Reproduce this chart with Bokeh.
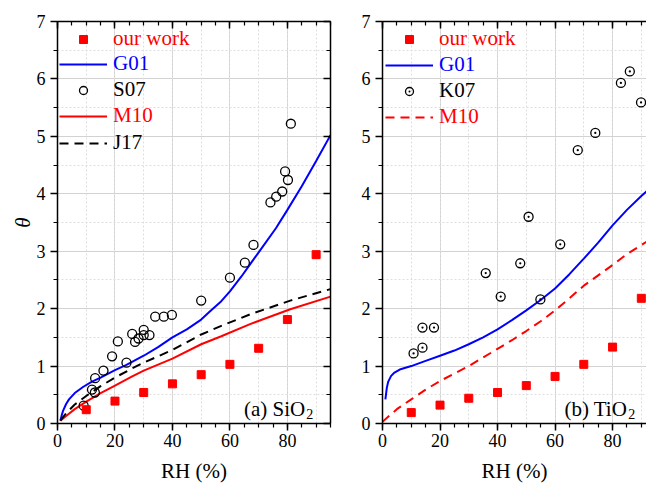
from bokeh.plotting import figure
from bokeh.models import (Range1d, LinearAxis, SingleIntervalTicker, Grid, Legend,
                          LegendItem, Label)
from bokeh.layouts import row
from bokeh.embed import file_html
from bokeh.resources import INLINE

FONT = "Liberation Serif"
RED = "#ff0000"
BLUE = "#0000ff"

# ---------------- (a) SiO2 ----------------
sio2_ours_rh = [10, 20, 30, 40, 50, 60, 70, 80, 90]
sio2_ours_theta = [0.24, 0.39, 0.54, 0.69, 0.85, 1.03, 1.31, 1.81, 2.94]

s07_rh = [9.1, 12.0, 13.0, 13.1, 16.0, 19.0, 21.0, 24.0, 26.0, 27.0, 28.2, 30.0, 30.0,
          32.0, 34.0, 37.0, 39.8, 50.0, 60.0, 65.2, 68.2, 74.1, 76.1, 78.2, 79.2, 80.2, 81.2]
s07_theta = [0.31, 0.59, 0.54, 0.79, 0.92, 1.17, 1.43, 1.06, 1.56, 1.42, 1.48, 1.63, 1.54,
             1.54, 1.86, 1.86, 1.89, 2.14, 2.54, 2.80, 3.11, 3.85, 3.95, 4.04, 4.39, 4.24, 5.22]

g01_sio2_rh = [1, 1.5, 2, 3, 4, 6, 9, 12, 15, 20, 24, 30, 35, 40, 45, 50, 53, 57, 60, 64,
               67, 71, 76, 80, 85, 90, 95]
g01_sio2_theta = [0.05, 0.15, 0.23, 0.34, 0.42, 0.53, 0.64, 0.73, 0.80, 0.93, 1.02, 1.18,
                  1.33, 1.50, 1.64, 1.81, 1.95, 2.13, 2.30, 2.56, 2.77, 3.05, 3.40, 3.72,
                  4.13, 4.57, 5.02]

m10_sio2_rh = [1, 3, 6, 10, 15, 20, 26, 30, 40, 50, 57, 67, 81, 95]
m10_sio2_theta = [0.05, 0.13, 0.25, 0.38, 0.53, 0.66, 0.82, 0.92, 1.13, 1.38, 1.52, 1.73, 1.99, 2.21]

j17_sio2_rh = [1, 3, 6, 10, 15, 20, 26, 30, 40, 50, 57, 67, 81, 95]
j17_sio2_theta = [0.05, 0.18, 0.33, 0.48, 0.65, 0.80, 0.96, 1.06, 1.28, 1.55, 1.70, 1.90, 2.14, 2.34]

# ---------------- (b) TiO2 ----------------
tio2_ours_rh = [10, 20, 30, 40, 50, 60, 70, 80, 90]
tio2_ours_theta = [0.19, 0.32, 0.44, 0.54, 0.66, 0.82, 1.03, 1.33, 2.18]

k07_rh = [10.8, 13.9, 13.9, 17.9, 35.9, 41.1, 47.9, 50.8, 54.9, 61.8, 67.9, 74.0, 82.9, 86.0, 89.9]
k07_theta = [1.22, 1.32, 1.67, 1.67, 2.62, 2.21, 2.79, 3.60, 2.16, 3.12, 4.76, 5.06, 5.93, 6.13, 5.59]

g01_tio2_rh = [1, 1.5, 2, 3, 4, 6, 8, 10, 15, 20, 25, 30, 35, 40, 45, 50, 55, 60, 65, 70,
               75, 80, 85, 90, 92]
g01_tio2_theta = [0.42, 0.62, 0.73, 0.83, 0.88, 0.94, 0.97, 1.00, 1.09, 1.18, 1.27, 1.38,
                  1.50, 1.64, 1.80, 1.97, 2.15, 2.35, 2.60, 2.87, 3.15, 3.45, 3.72, 3.96, 4.05]

m10_tio2_rh = [0, 5, 10, 15, 20, 25, 30, 35, 40, 45, 50, 55, 60, 65, 70, 75, 80, 85, 92]
m10_tio2_theta = [0.03, 0.25, 0.42, 0.59, 0.74, 0.87, 1.00, 1.15, 1.30, 1.45, 1.61, 1.78, 1.97,
                  2.18, 2.40, 2.58, 2.76, 2.95, 3.17]

x_tick_step = 20
y_tick_step = 1


def style_axis(ax, inward, show_labels, label_standoff):
    ax.axis_line_width = 1.5
    ax.axis_line_color = "black"
    ax.major_tick_line_width = 1.5
    ax.minor_tick_line_width = 1.2
    if inward:
        ax.major_tick_in, ax.major_tick_out = 7, 0
        ax.minor_tick_in, ax.minor_tick_out = 4, 0
    else:
        ax.major_tick_in, ax.major_tick_out = 0, 7
        ax.minor_tick_in, ax.minor_tick_out = 0, 4
    ax.major_label_text_font = FONT
    if show_labels:
        ax.major_label_text_font_size = "18px"
        ax.major_label_text_color = "black"
        ax.major_label_standoff = label_standoff
    else:
        ax.major_label_text_font_size = "1px"
        ax.major_label_text_color = None
        ax.major_label_standoff = 0
    ax.axis_label_text_font = FONT
    ax.axis_label_text_font_size = "21px"
    ax.axis_label_text_font_style = "normal"
    ax.axis_label_text_color = "black"


def make_fig(width, xmax, border_left, border_right, ylabel, right_axis):
    p = figure(width=width, height=485, x_range=Range1d(0, xmax), y_range=Range1d(0, 7),
               output_backend="svg", toolbar_location=None,
               min_border_left=border_left, min_border_right=border_right,
               min_border_top=21, min_border_bottom=62,
               x_axis_label="RH (%)", y_axis_label=ylabel)
    p.outline_line_color = None
    p.background_fill_color = "white"
    p.border_fill_color = "white"
    bottom = p.below[0]
    left = p.left[0]
    bottom.ticker = SingleIntervalTicker(interval=x_tick_step, num_minor_ticks=4)
    left.ticker = SingleIntervalTicker(interval=y_tick_step, num_minor_ticks=2)
    style_axis(bottom, False, True, 3)
    bottom.axis_label_standoff = 9
    style_axis(left, False, True, 5)
    left.axis_label_standoff = -1
    left.axis_label_text_font_style = "italic"
    top = LinearAxis(ticker=SingleIntervalTicker(interval=x_tick_step, num_minor_ticks=4))
    style_axis(top, True, False, 0)
    p.add_layout(top, "above")
    if right_axis:
        rax = LinearAxis(ticker=SingleIntervalTicker(interval=y_tick_step, num_minor_ticks=2))
        style_axis(rax, True, False, 0)
        p.add_layout(rax, "right")
    # grids
    p.xgrid.grid_line_color = "#d2d2d2"
    p.ygrid.grid_line_color = "#d2d2d2"
    p.ygrid.minor_grid_line_color = "#dedede"
    p.ygrid.minor_grid_line_dash = "2 2"
    g10 = Grid(dimension=0, ticker=SingleIntervalTicker(interval=10),
               grid_line_color="#dedede", grid_line_dash="2 2")
    p.add_layout(g10)
    return p


def add_legend(p, label, renderers, color, x, y):
    leg = Legend(items=[LegendItem(label=label, renderers=renderers)], location=(x, y),
                 background_fill_alpha=0, border_line_color=None, padding=0, margin=0,
                 spacing=0, glyph_height=20, label_height=20,
                 label_standoff=6, label_text_font=FONT, label_text_font_size="21px",
                 label_text_color=color, label_text_baseline="middle")
    leg.glyph_width = 48
    p.add_layout(leg, "center")


def add_tag(p, x, text, sub):
    p.add_layout(Label(x=x, y=0.26, text=text, text_font=FONT, text_font_size="21px",
                       text_align="right", text_baseline="middle", text_color="black"))
    p.add_layout(Label(x=x, y=0.17, text=sub, text_font=FONT, text_font_size="14px",
                       text_align="left", text_baseline="middle", text_color="black", x_offset=1))


# ---- panel (a)
p1 = make_fig(335, 95, 57, 5, "θ", True)
r_g01 = p1.line(g01_sio2_rh, g01_sio2_theta, line_color=BLUE, line_width=2)
r_m10 = p1.line(m10_sio2_rh, m10_sio2_theta, line_color=RED, line_width=2)
r_j17 = p1.line(j17_sio2_rh, j17_sio2_theta, line_color="black", line_width=2, line_dash="9 6")
r_s07 = p1.scatter(s07_rh, s07_theta, marker="circle", size=9, fill_color=None,
                   line_color="black", line_width=1.3)
r_ours = p1.scatter(sio2_ours_rh, sio2_ours_theta, marker="square", size=8,
                    fill_color=RED, line_color=RED)
add_legend(p1, "our work", [r_ours], RED, 2, 372)
add_legend(p1, "G01", [r_g01], BLUE, 2, 347)
add_legend(p1, "S07", [r_s07], "black", 2, 321)
add_legend(p1, "M10", [r_m10], RED, 2, 295)
add_legend(p1, "J17", [r_j17], "black", 2, 268)
add_tag(p1, 86.2, "(a) SiO", "2")

# ---- panel (b)
p2 = make_fig(311, 91.8, 47, 0, None, False)
q_g01 = p2.line(g01_tio2_rh, g01_tio2_theta, line_color=BLUE, line_width=2)
q_m10 = p2.line(m10_tio2_rh, m10_tio2_theta, line_color=RED, line_width=2, line_dash="9 6")
q_k07 = p2.scatter(k07_rh, k07_theta, marker="circle_dot", size=9, fill_color=None,
                   line_color="black", line_width=1.3)
q_ours = p2.scatter(tio2_ours_rh, tio2_ours_theta, marker="square", size=8,
                    fill_color=RED, line_color=RED)
add_legend(p2, "our work", [q_ours], RED, 3, 372)
add_legend(p2, "G01", [q_g01], BLUE, 3, 346)
add_legend(p2, "K07", [q_k07], "black", 3, 320)
add_legend(p2, "M10", [q_m10], RED, 3, 294)
add_tag(p2, 85.1, "(b) TiO", "2")

layout = row(p1, p2)
open("out.html", "w").write(file_html(layout, INLINE))
